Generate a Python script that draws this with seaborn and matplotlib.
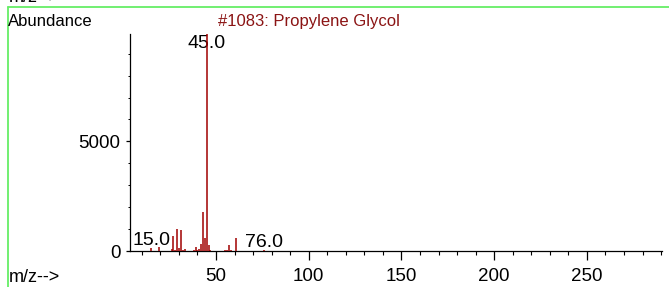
import matplotlib
matplotlib.use("Agg")
import matplotlib.pyplot as plt
import seaborn as sns
import pandas as pd
from matplotlib.ticker import MultipleLocator, FixedLocator
from matplotlib.lines import Line2D

# peaks
mz = [15, 19, 26, 27, 28, 29, 30, 31, 32, 33, 38, 39, 40, 41, 42, 43, 44,
      45, 46, 47, 55, 56, 57, 58, 61, 76]
abundance = [130, 190, 100, 670, 60, 1000, 120, 960, 50, 80, 30, 160, 40,
             90, 300, 1770, 600, 9900, 260, 40, 40, 40, 270, 60, 580, 40]
labelled = [15, 45, 76]
title = "#1083: Propylene Glycol"

spec = pd.DataFrame({"mz": mz, "abundance": abundance})

sns.set_theme(style="white")
plt.rcParams['font.family'] = ['Liberation Sans', 'DejaVu Sans']

peak_col = "#a00000"
green = "#66ee66"

fig = plt.figure(figsize=(6.69, 2.87), dpi=100)
ax = fig.add_axes([130 / 669, 1 - 251 / 287, 532 / 669, 217 / 287])

ax.vlines(spec["mz"], 0, spec["abundance"], color=peak_col, lw=1.1, zorder=3)

ax.set_xlim(3.6, 290.5)
ax.set_ylim(0, 9900)

for m in labelled:
    h = spec.loc[spec["mz"] == m, "abundance"].iloc[0]
    if h > 0.8 * ax.get_ylim()[1]:
        ax.annotate(f"{m:.1f}", (m, ax.get_ylim()[1]), xytext=(0, -1),
                    textcoords="offset points", ha="center", va="top",
                    fontsize=14, color="black", zorder=2)
    else:
        ax.annotate(f"{m:.1f}", (m, h), xytext=(0, 2.5),
                    textcoords="offset points", ha="center", va="baseline",
                    fontsize=14, color="black", zorder=2)

sns.despine(ax=ax)
for s in ["left", "bottom"]:
    ax.spines[s].set_color("black")
    ax.spines[s].set_linewidth(0.9)

ax.xaxis.set_major_locator(FixedLocator([50, 100, 150, 200, 250]))
ax.xaxis.set_minor_locator(MultipleLocator(10))
ax.yaxis.set_major_locator(FixedLocator([0, 5000]))
ax.yaxis.set_minor_locator(MultipleLocator(1000))
ax.tick_params(axis="x", which="major", direction="out", length=6.3, width=0.9,
               labelsize=13.5, pad=6, bottom=True, colors="black")
ax.tick_params(axis="x", which="minor", direction="out", length=3.1, width=0.8,
               bottom=True, colors="black")
ax.tick_params(axis="y", which="major", direction="out", length=3, width=0.9,
               labelsize=13.5, pad=4, left=True, colors="black")
ax.tick_params(axis="y", which="minor", direction="out", length=1.5, width=0.7,
               left=True, colors="black")
ax.set_xlabel("")
ax.set_ylabel("")

fig.text(8 / 669, 1 - 26 / 287, "Abundance", fontsize=12, ha="left",
         va="baseline", color="black")
fig.text(309 / 669, 1 - 26 / 287, title, fontsize=12, ha="center",
         va="baseline", color="#8b1414")
fig.text(9 / 669, 1 - 282 / 287, "m/z-->", fontsize=13, ha="left",
         va="baseline", color="black")
fig.text(9 / 669, 1 - 2 / 287, "m/z-->", fontsize=13, ha="left",
         va="baseline", color="black")

# green frame lines of the report page
fig.add_artist(Line2D([8 / 669, 1], [1 - 6.5 / 287] * 2, color=green, lw=1.3,
                      transform=fig.transFigure))
fig.add_artist(Line2D([8 / 669] * 2, [1 - 6.5 / 287, 0], color=green, lw=1.3,
                      transform=fig.transFigure))

fig.savefig("out.png", dpi=100)
